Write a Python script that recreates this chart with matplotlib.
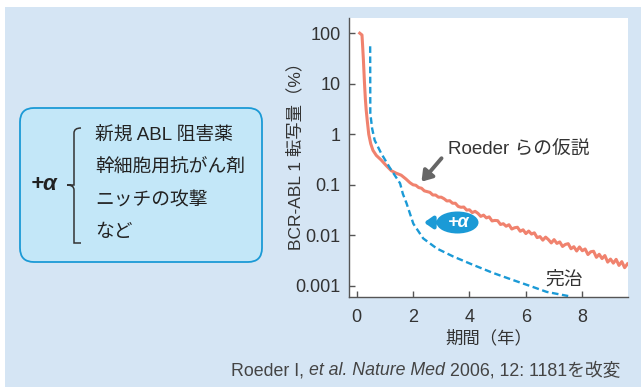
import numpy as np
import matplotlib.pyplot as plt
from matplotlib.patches import Rectangle, FancyBboxPatch, Ellipse, PathPatch
from matplotlib.path import Path

plt.rcParams['font.family'] = ['Liberation Sans', 'Noto Sans CJK JP']

# Roeder hypothesis curve: years vs BCR-ABL1 (%)
red_x_early = [0.11, 0.19, 0.21, 0.24, 0.28, 0.31, 0.34, 0.38, 0.43, 0.50, 0.58,
               0.70, 0.87, 1.05, 1.23, 1.40, 1.58, 1.75, 1.89, 2.00]
red_y_early = [100, 92, 60, 30, 10, 5, 3, 1.8, 1.0, 0.65, 0.48,
               0.38, 0.31, 0.24, 0.19, 0.17, 0.155, 0.13, 0.11, 0.10]
# noisy tail, log10 of the percentage, one reading every 0.1 year from 2.1 to 9.6
red_x_tail = [2.1, 2.2, 2.3, 2.4, 2.5, 2.6, 2.7, 2.8, 2.9, 3.0,
              3.1, 3.2, 3.3, 3.4, 3.5, 3.6, 3.7, 3.8, 3.9, 4.0,
              4.1, 4.2, 4.3, 4.4, 4.5, 4.6, 4.7, 4.8, 4.9, 5.0,
              5.1, 5.2, 5.3, 5.4, 5.5, 5.6, 5.7, 5.8, 5.9, 6.0,
              6.1, 6.2, 6.3, 6.4, 6.5, 6.6, 6.7, 6.8, 6.9, 7.0,
              7.1, 7.2, 7.3, 7.4, 7.5, 7.6, 7.7, 7.8, 7.9, 8.0,
              8.1, 8.2, 8.3, 8.4, 8.5, 8.6, 8.7, 8.8, 8.9, 9.0,
              9.1, 9.2, 9.3, 9.4, 9.5, 9.6]
red_log_tail = [-1.01, -1.055, -1.068, -1.12, -1.135, -1.15, -1.202, -1.202, -1.245, -1.245,
                -1.276, -1.32, -1.315, -1.365, -1.365, -1.428, -1.445, -1.44, -1.50, -1.495,
                -1.55, -1.525, -1.565, -1.625, -1.60, -1.655, -1.635, -1.715, -1.705, -1.71,
                -1.785, -1.77, -1.82, -1.79, -1.875, -1.85, -1.84, -1.92, -1.89, -1.965,
                -1.915, -1.975, -1.95, -2.045, -2.025, -2.095, -2.035, -2.085, -2.15, -2.085,
                -2.16, -2.13, -2.22, -2.18, -2.165, -2.265, -2.225, -2.31, -2.23, -2.305,
                -2.27, -2.38, -2.325, -2.315, -2.435, -2.375, -2.46, -2.40, -2.53, -2.47,
                -2.55, -2.475, -2.595, -2.52, -2.64, -2.565]

# cure curve (dashed)
blue_x = [0.48, 0.485, 0.55, 0.64, 0.87, 1.17, 1.54, 1.64, 1.77, 2.01, 2.36,
          2.84, 3.43, 4.13, 4.84, 5.55, 6.14, 6.74, 7.50]
blue_y = [55, 2.6, 1.3, 0.76, 0.42, 0.22, 0.107, 0.066, 0.043, 0.017, 0.0087,
          0.0055, 0.0038, 0.0026, 0.0018, 0.0013, 0.0010, 0.00076, 0.00063]

x_ticks = [0, 2, 4, 6, 8]
y_ticks = [0.001, 0.01, 0.1, 1, 10, 100]
y_ticklabels = ['0.001', '0.01', '0.1', '1', '10', '100']
box_items = ['新規 ABL 阻害薬', '幹細胞用抗がん剤', 'ニッチの攻撃', 'など']

red = '#f0826e'
blue = '#1b9ad6'
panel = '#d5e5f4'

fig = plt.figure(figsize=(6.41, 3.87), dpi=100)

# background layer in pixel coordinates
bg = fig.add_axes([0, 0, 1, 1], zorder=0)
bg.set_xlim(0, 641)
bg.set_ylim(387, 0)
bg.axis('off')
bg.add_patch(Rectangle((5, 7), 636, 380, fc=panel, ec='none'))

# left box
bg.add_patch(FancyBboxPatch((34, 122), 214, 126, boxstyle='round,pad=14,rounding_size=14',
                            fc='#c3e7f8', ec=blue, lw=1.3))
bg.text(44, 185, '+α', fontsize=16, fontweight='bold', style='italic',
        ha='center', va='center', color='#222222')
brace = Path([(81, 128), (74, 128), (74, 133), (74, 140),
              (74, 178), (74, 178), (74, 180), (74, 185), (67, 185), (67, 185),
              (74, 185), (74, 190), (74, 192), (74, 192),
              (74, 231), (74, 238), (74, 243), (81, 243)],
             [Path.MOVETO, Path.CURVE3, Path.CURVE3, Path.LINETO,
              Path.LINETO, Path.LINETO, Path.CURVE3, Path.CURVE3, Path.LINETO, Path.LINETO,
              Path.CURVE3, Path.CURVE3, Path.LINETO, Path.LINETO,
              Path.LINETO, Path.CURVE3, Path.CURVE3, Path.LINETO])
bg.add_patch(PathPatch(brace, fc='none', ec='#333333', lw=1.1))
for i, item in enumerate(box_items):
    bg.text(95, 136 + i * 32.3, item, fontsize=13.5, va='center', ha='left', color='#222222')

# caption with italic part
t1 = bg.text(231, 379, 'Roeder I,', fontsize=12.8, va='bottom', ha='left', color='#444444')
t2 = bg.annotate('et al. Nature Med', xy=(1, 0), xycoords=t1, xytext=(3.5, 0),
                 textcoords='offset points', fontsize=12.8, style='italic',
                 va='bottom', ha='left', color='#444444')
bg.annotate('2006, 12: 1181を改変', xy=(1, 0), xycoords=t2, xytext=(3.5, 0),
            textcoords='offset points', fontsize=12.8, va='bottom', ha='left', color='#444444')

# main chart
ax = fig.add_axes([349 / 641, 90 / 387, 279 / 641, 279 / 387], zorder=1)
ax.set_facecolor('white')
ax.set_yscale('log')

red_x = red_x_early + red_x_tail
red_y = red_y_early + [10 ** v for v in red_log_tail]
ax.plot(red_x, red_y, color=red, lw=2.2)
ax.plot(blue_x, blue_y, color=blue, lw=1.7, linestyle=(0, (2.8, 1.5)))

ax.set_xlim(-0.27, 9.62)
ax.set_ylim(10 ** -3.22, 10 ** 2.30)
ax.set_xticks(x_ticks)
ax.set_yticks(y_ticks)
ax.set_yticklabels(y_ticklabels)
ax.minorticks_off()
for s in ['top', 'right']:
    ax.spines[s].set_visible(False)
for s in ['left', 'bottom']:
    ax.spines[s].set_color('#555555')
    ax.spines[s].set_linewidth(1.0)
ax.tick_params(direction='in', length=4.5, width=1.0, color='#555555',
               labelsize=13, labelcolor='#333333')
ax.tick_params(axis='y', pad=6)
ax.tick_params(axis='x', pad=9)
ax.set_xlabel('期間（年）', fontsize=12.5, color='#333333', labelpad=2)
ax.set_ylabel('BCR-ABL 1 転写量（%）', fontsize=12.5, color='#333333')
ax.yaxis.set_label_coords(-0.165, 0.52)

ax.annotate('', xy=(2.30, 0.115), xytext=(3.01, 0.335),
            arrowprops=dict(arrowstyle='-|>,head_length=0.6,head_width=0.4', lw=2.8,
                            color='#666666', shrinkA=0, shrinkB=0))
ax.text(3.24, 0.49, 'Roeder らの仮説', fontsize=13.5, va='center', ha='left', color='#333333')
ax.text(7.35, 0.0013, '完治', fontsize=13.5, va='center', ha='center', color='#333333')

# top layer: "+α" bubble with arrow
top = fig.add_axes([0, 0, 1, 1], zorder=2)
top.set_xlim(0, 641)
top.set_ylim(387, 0)
top.axis('off')
top.patch.set_alpha(0)
top.add_patch(Ellipse((457.5, 222.5), 42, 22, fc=blue, ec='none'))
top.annotate('', xy=(424, 222.5), xytext=(440, 222.5),
             arrowprops=dict(arrowstyle='-|>,head_length=0.5,head_width=0.35', lw=3,
                             color=blue, shrinkA=0, shrinkB=0))
top.text(459, 222.5, '+α', fontsize=13, fontweight='bold', style='italic',
         color='white', ha='center', va='center')

fig.savefig('out.png', dpi=100, facecolor='white')
